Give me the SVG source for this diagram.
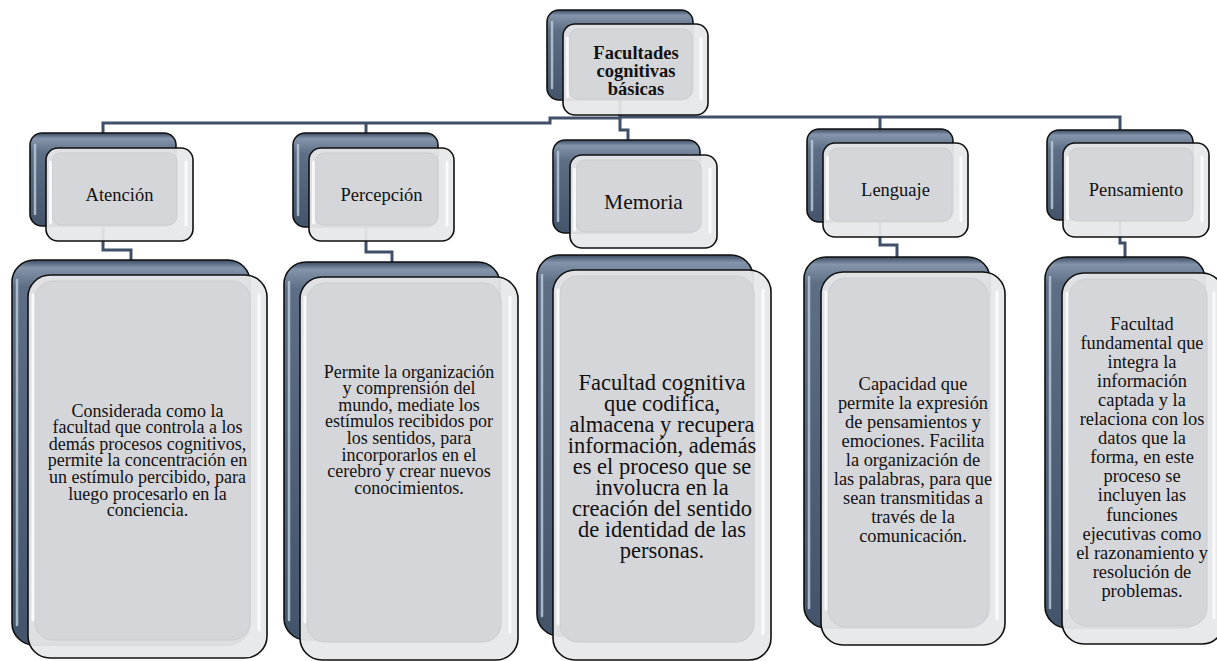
<svg xmlns="http://www.w3.org/2000/svg" width="1217" height="661" viewBox="0 0 1217 661">
<defs>
<linearGradient id="gB" x1="0" y1="0" x2="0" y2="1">
<stop offset="0" stop-color="#3a4a60"/><stop offset="0.06" stop-color="#8495ab"/><stop offset="0.22" stop-color="#5d6e85"/><stop offset="1" stop-color="#44546a"/>
</linearGradient>
<linearGradient id="gBL" x1="0" y1="0" x2="0" y2="1">
<stop offset="0" stop-color="#3a4a60"/><stop offset="0.02" stop-color="#8495ab"/><stop offset="0.07" stop-color="#5d6e85"/><stop offset="1" stop-color="#44546a"/>
</linearGradient>
</defs>
<style>
.bk{fill:url(#gB);stroke:#111;stroke-width:1.6}
.bkL{fill:url(#gBL);stroke:#111;stroke-width:1.6}
.fr{fill:#e7e8ea;fill-opacity:0.94;stroke:#111;stroke-width:1.6}
.face{fill:#d5d6da;stroke:#cbccd0;stroke-width:1}
.hl{stroke:#ffffff;stroke-width:3;stroke-linecap:round;opacity:0.8;fill:none}
.st{stroke:#b8c8db;stroke-width:2.5;stroke-linecap:round;opacity:0.85;fill:none}
.cn{fill:none;stroke:#3f5068;stroke-width:3}
text{font-family:"Liberation Serif","Times New Roman",serif;fill:#111;text-anchor:middle}
.t2{font-size:18.5px}
.t3{font-size:18.4px}
.t3s{font-size:18px}
</style>
<g id="connectors">
<path class="cn" d="M620,100 V118 H550 V123 H103 V133"/>
<path class="cn" d="M366,123 V133"/>
<path class="cn" d="M620,100 V130 H628 V140"/>
<path class="cn" d="M620,117 H1120 V130"/>
<path class="cn" d="M880,117 V129"/>
<path class="cn" d="M103,226 V250 H131 V260"/>
<path class="cn" d="M366,227 V252 H392 V262"/>
<path class="cn" d="M880,222 V245 H897 V257"/>
<path class="cn" d="M1120,220 V243 H1125 V257"/>
</g>
<g id="root">
<rect class="bk" x="547" y="10" width="146" height="90" rx="12"/>
<line class="st" x1="552" y1="22" x2="552" y2="88"/>
<rect class="fr" x="563" y="24" width="145" height="91" rx="12"/>
<rect class="face" x="569" y="29" width="123" height="70" rx="9"/>
<line class="hl" x1="567.5" y1="38" x2="567.5" y2="97"/>
<line class="hl" x1="701" y1="38" x2="701" y2="99"/>
<text x="636" y="59" font-size="18.5" font-weight="bold">Facultades</text>
<text x="636" y="77" font-size="18.5" font-weight="bold">cognitivas</text>
<text x="636" y="95" font-size="18.5" font-weight="bold">básicas</text>
</g>
<g id="atencion">
<rect class="bk" x="30" y="133" width="146" height="93" rx="12"/>
<line class="st" x1="35" y1="145" x2="35" y2="214"/>
<rect class="fr" x="46" y="148" width="147" height="93" rx="12"/>
<rect class="face" x="52" y="153" width="125" height="72" rx="9"/>
<line class="hl" x1="50.5" y1="162" x2="50.5" y2="223"/>
<line class="hl" x1="186" y1="162" x2="186" y2="225"/>
<text class="t2" x="119.5" y="201">Atención</text>
</g>
<g id="percepcion">
<rect class="bk" x="293" y="133" width="145" height="94" rx="12"/>
<line class="st" x1="298" y1="145" x2="298" y2="215"/>
<rect class="fr" x="309" y="148" width="145" height="93" rx="12"/>
<rect class="face" x="315" y="153" width="123" height="72" rx="9"/>
<line class="hl" x1="313.5" y1="162" x2="313.5" y2="223"/>
<line class="hl" x1="447" y1="162" x2="447" y2="225"/>
<text class="t2" x="381.5" y="201">Percepción</text>
</g>
<g id="memoria">
<rect class="bk" x="553" y="140" width="147" height="93" rx="12"/>
<line class="st" x1="558" y1="152" x2="558" y2="221"/>
<rect class="fr" x="570" y="155" width="147" height="93" rx="12"/>
<rect class="face" x="576" y="160" width="125" height="72" rx="9"/>
<line class="hl" x1="574.5" y1="169" x2="574.5" y2="230"/>
<line class="hl" x1="710" y1="169" x2="710" y2="232"/>
<text x="643.5" y="209" font-size="21.5">Memoria</text>
</g>
<g id="lenguaje">
<rect class="bk" x="807" y="129" width="146" height="93" rx="12"/>
<line class="st" x1="812" y1="141" x2="812" y2="210"/>
<rect class="fr" x="823" y="143" width="145" height="94" rx="12"/>
<rect class="face" x="829" y="148" width="123" height="73" rx="9"/>
<line class="hl" x1="827.5" y1="157" x2="827.5" y2="219"/>
<line class="hl" x1="961" y1="157" x2="961" y2="221"/>
<text class="t2" x="895.5" y="196">Lenguaje</text>
</g>
<g id="pensamiento">
<rect class="bk" x="1047" y="130" width="146" height="90" rx="12"/>
<line class="st" x1="1052" y1="142" x2="1052" y2="208"/>
<rect class="fr" x="1063" y="143" width="146" height="94" rx="12"/>
<rect class="face" x="1069" y="148" width="124" height="73" rx="9"/>
<line class="hl" x1="1067.5" y1="157" x2="1067.5" y2="219"/>
<line class="hl" x1="1202" y1="157" x2="1202" y2="221"/>
<text class="t2" x="1136" y="196">Pensamiento</text>
</g>
<g id="atencion-desc">
<rect class="bkL" x="12" y="260" width="238" height="385" rx="22"/>
<line class="st" x1="17" y1="280" x2="17" y2="625"/>
<rect class="fr" x="28" y="275" width="239" height="383" rx="22"/>
<rect class="face" x="35" y="281" width="215" height="359" rx="18"/>
<line class="hl" x1="33" y1="295" x2="33" y2="620"/>
<line class="hl" x1="259" y1="295" x2="259" y2="630"/>
<text class="t3s" x="147.5" y="416.5">Considerada como la</text>
<text class="t3s" x="147.5" y="433.1">facultad que controla a los</text>
<text class="t3s" x="147.5" y="449.7">demás procesos cognitivos,</text>
<text class="t3s" x="147.5" y="466.3">permite la concentración en</text>
<text class="t3s" x="147.5" y="482.9">un estímulo percibido, para</text>
<text class="t3s" x="147.5" y="499.5">luego procesarlo en la</text>
<text class="t3s" x="147.5" y="516.1">conciencia.</text>
</g>
<g id="percepcion-desc">
<rect class="bkL" x="284" y="262" width="216" height="378" rx="22"/>
<line class="st" x1="289" y1="282" x2="289" y2="620"/>
<rect class="fr" x="300" y="277" width="218" height="383" rx="22"/>
<rect class="face" x="307" y="283" width="194" height="359" rx="18"/>
<line class="hl" x1="305" y1="297" x2="305" y2="622"/>
<line class="hl" x1="510" y1="297" x2="510" y2="632"/>
<text class="t3s" x="409" y="377.5">Permite la organización</text>
<text class="t3s" x="409" y="394.1">y comprensión del</text>
<text class="t3s" x="409" y="410.7">mundo, mediate los</text>
<text class="t3s" x="409" y="427.3">estímulos recibidos por</text>
<text class="t3s" x="409" y="443.9">los sentidos, para</text>
<text class="t3s" x="409" y="460.5">incorporarlos en el</text>
<text class="t3s" x="409" y="477.1">cerebro y crear nuevos</text>
<text class="t3s" x="409" y="493.7">conocimientos.</text>
</g>
<g id="memoria-desc">
<rect class="bkL" x="537" y="255" width="216" height="381" rx="22"/>
<line class="st" x1="542" y1="275" x2="542" y2="616"/>
<rect class="fr" x="553" y="270" width="218" height="390" rx="22"/>
<rect class="face" x="560" y="276" width="194" height="366" rx="18"/>
<line class="hl" x1="558" y1="290" x2="558" y2="624"/>
<line class="hl" x1="763" y1="290" x2="763" y2="634"/>
<text x="662" y="390" font-size="22.5">Facultad cognitiva</text>
<text x="662" y="411" font-size="22.5">que codifica,</text>
<text x="662" y="432" font-size="22.5">almacena y recupera</text>
<text x="662" y="453" font-size="22.5">información, además</text>
<text x="662" y="474" font-size="22.5">es el proceso que se</text>
<text x="662" y="495" font-size="22.5">involucra en la</text>
<text x="662" y="516" font-size="22.5">creación del sentido</text>
<text x="662" y="537" font-size="22.5">de identidad de las</text>
<text x="662" y="558" font-size="22.5">personas.</text>
</g>
<g id="lenguaje-desc">
<rect class="bkL" x="804" y="257" width="186" height="371" rx="22"/>
<line class="st" x1="809" y1="277" x2="809" y2="608"/>
<rect class="fr" x="821" y="272" width="184" height="373" rx="22"/>
<rect class="face" x="828" y="278" width="160" height="349" rx="18"/>
<line class="hl" x1="826" y1="292" x2="826" y2="609"/>
<line class="hl" x1="997" y1="292" x2="997" y2="619"/>
<text class="t3" x="913" y="390">Capacidad que</text>
<text class="t3" x="913" y="409">permite la expresión</text>
<text class="t3" x="913" y="428">de pensamientos y</text>
<text class="t3" x="913" y="447">emociones. Facilita</text>
<text class="t3" x="913" y="466">la organización de</text>
<text class="t3" x="913" y="485">las palabras, para que</text>
<text class="t3" x="913" y="504">sean transmitidas a</text>
<text class="t3" x="913" y="523">través de la</text>
<text class="t3" x="913" y="542">comunicación.</text>
</g>
<g id="pensamiento-desc">
<rect class="bkL" x="1045" y="257" width="160" height="371" rx="22"/>
<line class="st" x1="1050" y1="277" x2="1050" y2="608"/>
<rect class="fr" x="1062" y="273" width="162" height="371" rx="22"/>
<rect class="face" x="1069" y="279" width="138" height="347" rx="18"/>
<line class="hl" x1="1067" y1="293" x2="1067" y2="608"/>
<line class="hl" x1="1214" y1="293" x2="1214" y2="618"/>
<text class="t3" x="1142" y="329.5">Facultad</text>
<text class="t3" x="1142" y="348.6">fundamental que</text>
<text class="t3" x="1142" y="367.7">integra la</text>
<text class="t3" x="1142" y="386.8">información</text>
<text class="t3" x="1142" y="405.9">captada y la</text>
<text class="t3" x="1142" y="425">relaciona con los</text>
<text class="t3" x="1142" y="444.1">datos que la</text>
<text class="t3" x="1142" y="463.2">forma, en este</text>
<text class="t3" x="1142" y="482.3">proceso se</text>
<text class="t3" x="1142" y="501.4">incluyen las</text>
<text class="t3" x="1142" y="520.5">funciones</text>
<text class="t3" x="1142" y="539.6">ejecutivas como</text>
<text class="t3" x="1142" y="558.7">el razonamiento y</text>
<text class="t3" x="1142" y="577.8">resolución de</text>
<text class="t3" x="1142" y="596.9">problemas.</text>
</g>
</svg>
